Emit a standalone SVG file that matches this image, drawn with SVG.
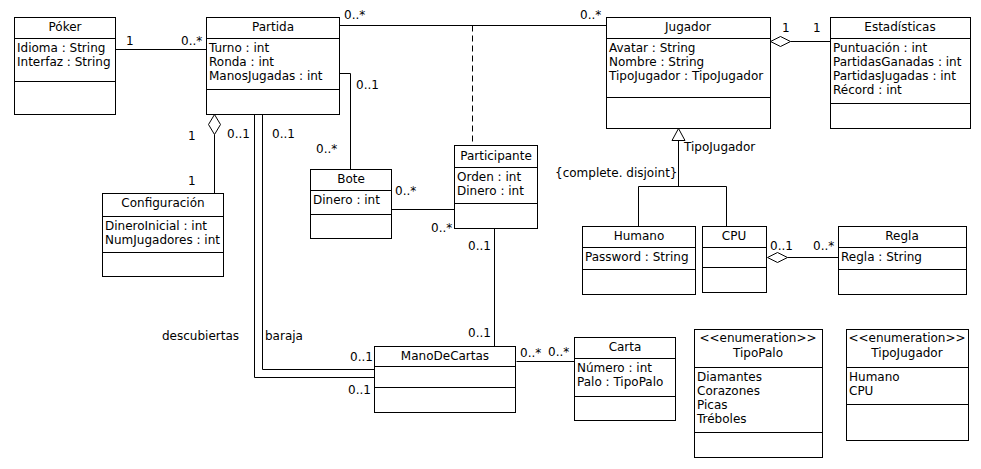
<svg xmlns="http://www.w3.org/2000/svg" width="981" height="469" viewBox="0 0 981 469">
<style>
text{font-family:"DejaVu Sans","Liberation Sans",sans-serif;font-size:12px;fill:#000}
.t{text-anchor:middle}
.box{fill:#fff;stroke:#000;stroke-width:1}
.ln{stroke:#000;stroke-width:1;fill:none}
.dia{fill:#fff;stroke:#000;stroke-width:1}
.dash{stroke:#000;stroke-width:1;fill:none;stroke-dasharray:6,4}
</style>
<rect width="981" height="469" fill="#fff"/>
<g id="connectors">
<path class="ln" d="M115.5 49.5H206.5"/>
<path class="ln" d="M339.5 25.5H606.5"/>
<path class="dash" d="M472.5 25.5V145.5"/>
<path class="ln" d="M339.5 73.5H350.5V169.5"/>
<path class="ln" d="M214.5 134.5V193.5"/>
<path class="dia" d="M214.5 114.5L220.5 124.5L214.5 134.5L208.5 124.5Z"/>
<path class="ln" d="M254.5 114.5V377.5H374.5"/>
<path class="ln" d="M262.5 114.5V369.5H374.5"/>
<path class="ln" d="M494.5 228.5V346.5"/>
<path class="ln" d="M391.5 209.5H454.5"/>
<path class="ln" d="M516.5 361.5H574.5"/>
<path class="ln" d="M790.5 41.5H830.5"/>
<path class="dia" d="M770.5 41.5L780.5 36.5L790.5 41.5L780.5 46.5Z"/>
<path class="ln" d="M678.5 140.5V186.5M638.5 226.5V186.5H726.5V226.5"/>
<path class="dia" d="M678.5 128.5L685 140.5H672Z"/>
<path class="ln" d="M787.5 257.5H838.5"/>
<path class="dia" d="M767.5 257.5L777.5 252.5L787.5 257.5L777.5 262.5Z"/>
<text x="126" y="45">1</text>
<text x="181" y="45">0..*</text>
<text x="344" y="19">0..*</text>
<text x="580" y="19">0..*</text>
<text x="356" y="89">0..1</text>
<text x="316" y="153">0..*</text>
<text x="188" y="140">1</text>
<text x="227" y="138">0..1</text>
<text x="272" y="138">0..1</text>
<text x="188" y="185">1</text>
<text x="395" y="195">0..*</text>
<text x="431" y="232">0..*</text>
<text x="468" y="250">0..1</text>
<text x="468" y="337">0..1</text>
<text x="350" y="361">0..1</text>
<text x="348" y="394">0..1</text>
<text x="162" y="340">descubiertas</text>
<text x="265" y="340">baraja</text>
<text x="520" y="357">0..*</text>
<text x="548" y="356">0..*</text>
<text x="782" y="32">1</text>
<text x="813" y="32">1</text>
<text x="684" y="151">TipoJugador</text>
<text x="555" y="177">{complete. disjoint}</text>
<text x="770" y="250">0..1</text>
<text x="813" y="250">0..*</text>
</g>
<g id="poker">
<rect class="box" x="14.5" y="17.5" width="101" height="97"/>
<path class="ln" d="M14.5 38.5H115.5M14.5 81.5H115.5"/>
<text class="t" x="65" y="31">Póker</text>
<text x="17" y="52">Idioma : String</text>
<text x="17" y="66">Interfaz : String</text>
</g>
<g id="partida">
<rect class="box" x="206.5" y="17.5" width="133" height="97"/>
<path class="ln" d="M206.5 38.5H339.5M206.5 89.5H339.5"/>
<text class="t" x="273" y="31">Partida</text>
<text x="209" y="52">Turno : int</text>
<text x="209" y="66">Ronda : int</text>
<text x="209" y="80">ManosJugadas : int</text>
</g>
<g id="jugador">
<rect class="box" x="606.5" y="17.5" width="164" height="111"/>
<path class="ln" d="M606.5 38.5H770.5M606.5 97.5H770.5"/>
<text class="t" x="688" y="31">Jugador</text>
<text x="609" y="52">Avatar : String</text>
<text x="609" y="66">Nombre : String</text>
<text x="609" y="80">TipoJugador : TipoJugador</text>
</g>
<g id="estadisticas">
<rect class="box" x="830.5" y="17.5" width="140" height="111"/>
<path class="ln" d="M830.5 38.5H970.5M830.5 103.5H970.5"/>
<text class="t" x="900" y="31">Estadísticas</text>
<text x="833" y="52">Puntuación : int</text>
<text x="833" y="66">PartidasGanadas : int</text>
<text x="833" y="80">PartidasJugadas : int</text>
<text x="833" y="94">Récord : int</text>
</g>
<g id="configuracion">
<rect class="box" x="102.5" y="193.5" width="121" height="83"/>
<path class="ln" d="M102.5 216.5H223.5M102.5 252.5H223.5"/>
<text class="t" x="163" y="207">Configuración</text>
<text x="105" y="230">DineroInicial : int</text>
<text x="105" y="244">NumJugadores : int</text>
</g>
<g id="bote">
<rect class="box" x="310.5" y="169.5" width="81" height="69"/>
<path class="ln" d="M310.5 190.5H391.5M310.5 214.5H391.5"/>
<text class="t" x="351" y="183">Bote</text>
<text x="313" y="204">Dinero : int</text>
</g>
<g id="participante">
<rect class="box" x="454.5" y="145.5" width="83" height="83"/>
<path class="ln" d="M454.5 167.5H537.5M454.5 203.5H537.5"/>
<text class="t" x="496" y="160">Participante</text>
<text x="457" y="181">Orden : int</text>
<text x="457" y="195">Dinero : int</text>
</g>
<g id="humano">
<rect class="box" x="582.5" y="226.5" width="113" height="68"/>
<path class="ln" d="M582.5 247.5H695.5M582.5 269.5H695.5"/>
<text class="t" x="639" y="240">Humano</text>
<text x="585" y="261">Password : String</text>
</g>
<g id="cpu">
<rect class="box" x="702.5" y="226.5" width="64" height="66"/>
<path class="ln" d="M702.5 247.5H766.5M702.5 267.5H766.5"/>
<text class="t" x="734" y="240">CPU</text>
</g>
<g id="regla">
<rect class="box" x="838.5" y="226.5" width="128" height="68"/>
<path class="ln" d="M838.5 247.5H966.5M838.5 269.5H966.5"/>
<text class="t" x="902" y="240">Regla</text>
<text x="841" y="261">Regla : String</text>
</g>
<g id="manodecartas">
<rect class="box" x="374.5" y="346.5" width="141" height="66"/>
<path class="ln" d="M374.5 366.5H515.5M374.5 387.5H515.5"/>
<text class="t" x="445" y="360">ManoDeCartas</text>
</g>
<g id="carta">
<rect class="box" x="574.5" y="337.5" width="101" height="83"/>
<path class="ln" d="M574.5 358.5H675.5M574.5 396.5H675.5"/>
<text class="t" x="625" y="351">Carta</text>
<text x="577" y="372">Número : int</text>
<text x="577" y="386">Palo : TipoPalo</text>
</g>
<g id="tipopalo">
<rect class="box" x="694.5" y="329.5" width="128" height="128"/>
<path class="ln" d="M694.5 367.5H822.5M694.5 432.5H822.5"/>
<text class="t" x="758" y="342">&lt;&lt;enumeration&gt;&gt;</text>
<text class="t" x="758" y="357">TipoPalo</text>
<text x="697" y="381">Diamantes</text>
<text x="697" y="395">Corazones</text>
<text x="697" y="409">Picas</text>
<text x="697" y="423">Tréboles</text>
</g>
<g id="tipojugador">
<rect class="box" x="846.5" y="329.5" width="122" height="111"/>
<path class="ln" d="M846.5 367.5H968.5M846.5 404.5H968.5"/>
<text class="t" x="907" y="342">&lt;&lt;enumeration&gt;&gt;</text>
<text class="t" x="907" y="357">TipoJugador</text>
<text x="849" y="381">Humano</text>
<text x="849" y="395">CPU</text>
</g>
</svg>
